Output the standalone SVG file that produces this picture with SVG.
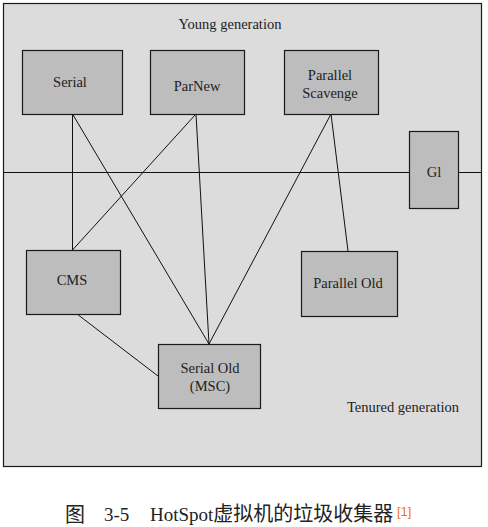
<svg xmlns="http://www.w3.org/2000/svg" width="488" height="527" viewBox="0 0 488 527">
<style>
.box{fill:#bdbdbd;stroke:#1a1a1a;stroke-width:1.2}
.t{font-family:'Liberation Serif','Times New Roman','DejaVu Serif',serif;font-size:14.5px;fill:#222;text-anchor:middle}
.cap{font-family:'Liberation Serif','Times New Roman','Noto Sans CJK SC',serif;font-size:19px;fill:#222}
.cj{font-family:'Noto Sans CJK SC',sans-serif;font-size:20px}
.c{stroke:#111;stroke-width:1;fill:none}
</style>
<rect x="0" y="0" width="488" height="527" fill="#ffffff"/>
<rect x="3.5" y="3.5" width="478" height="463" fill="#dcdcdc" stroke="#1a1a1a" stroke-width="1.2"/>
<line x1="3.5" y1="172.5" x2="481" y2="172.5" class="c"/>
<text x="230" y="29" class="t">Young generation</text>
<text x="403" y="412" class="t">Tenured generation</text>
<g id="connectors">
<line class="c" x1="72.5" y1="114" x2="72.5" y2="250"/>
<line class="c" x1="72.5" y1="114" x2="209" y2="344"/>
<line class="c" x1="196" y1="114" x2="72.5" y2="250"/>
<line class="c" x1="196" y1="114" x2="209" y2="344"/>
<line class="c" x1="331" y1="114" x2="209" y2="344"/>
<line class="c" x1="331" y1="114" x2="348" y2="251"/>
<line class="c" x1="77" y1="314" x2="158" y2="376"/>
</g>
<g id="serial"><rect class="box" x="22.5" y="50.5" width="100" height="64"/><text class="t" x="70" y="87">Serial</text></g>
<g id="parnew"><rect class="box" x="150.5" y="50.5" width="94" height="64"/><text class="t" x="197" y="91">ParNew</text></g>
<g id="parallel-scavenge"><rect class="box" x="284.5" y="50.5" width="94" height="64"/><text class="t" x="330" y="80">Parallel</text><text class="t" x="330" y="98">Scavenge</text></g>
<g id="g1"><rect class="box" x="409.5" y="131.5" width="49" height="77"/><text class="t" x="434" y="177">Gl</text></g>
<g id="cms"><rect class="box" x="26.5" y="250.5" width="94" height="64"/><text class="t" x="72" y="285">CMS</text></g>
<g id="parallel-old"><rect class="box" x="301.5" y="251.5" width="96" height="65"/><text class="t" x="348" y="288">Parallel Old</text></g>
<g id="serial-old"><rect class="box" x="158.5" y="344.5" width="102" height="64"/><text class="t" x="210" y="373">Serial Old</text><text class="t" x="210" y="391">(MSC)</text></g>
<text x="65" y="522" class="cap"><tspan class="cj">图</tspan></text>
<text x="104" y="521" class="cap">3-5</text>
<text x="150" y="521" class="cap">HotSpot<tspan class="cj">虚拟机的垃圾收集器</tspan></text>
<text x="397" y="516" font-family="'Liberation Sans',sans-serif" font-size="13" fill="#f07818">[1]</text>
</svg>
